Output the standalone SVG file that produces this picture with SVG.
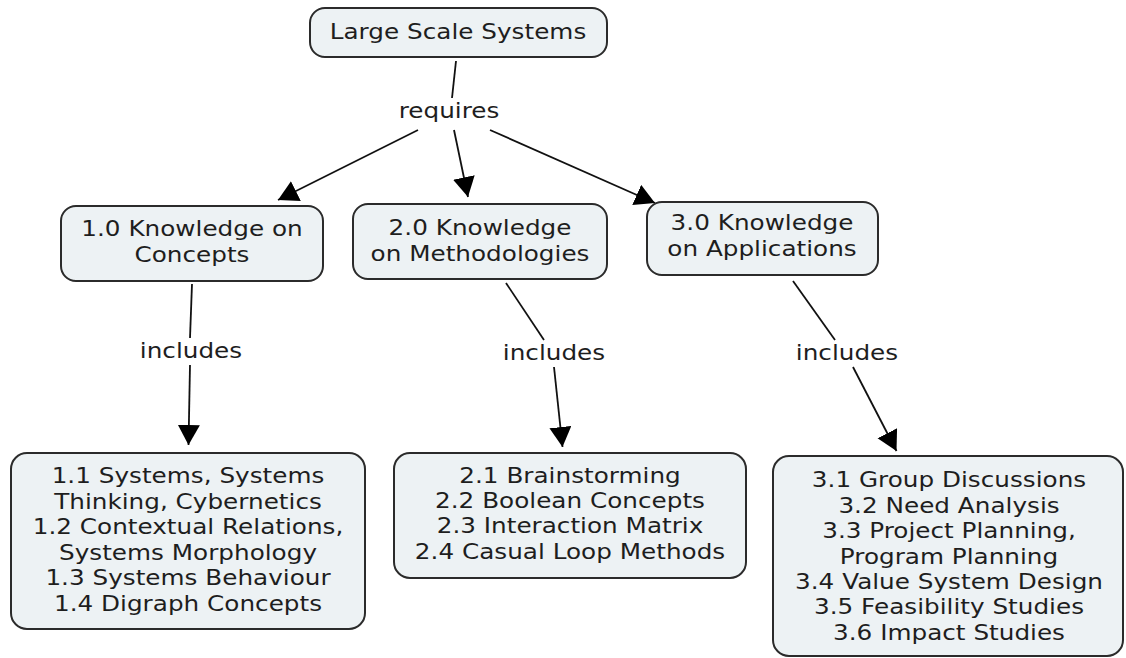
<svg xmlns="http://www.w3.org/2000/svg" width="1126" height="658" viewBox="0 0 1126 658">
<style>
.box{fill:#edf2f4;stroke:#2b2b2b;stroke-width:2}
text{font-family:"DejaVu Sans","Verdana",sans-serif;font-size:20.5px;fill:#1e1e1e;text-anchor:middle}
.edge{stroke:#111;stroke-width:1.8;fill:none}
</style>
<defs>
<marker id="ah" markerUnits="userSpaceOnUse" markerWidth="22" markerHeight="24" refX="20" refY="11" orient="auto">
<path d="M0,0 L20,11 L0,22 z" fill="#000"/>
</marker>
</defs>
<rect width="1126" height="658" fill="#fff"/>
<g id="connectors">
<line class="edge" x1="456" y1="61" x2="452" y2="98"/>
<text transform="translate(449,0) scale(1.205,1)" x="0" y="118">requires</text>
<line class="edge" x1="418" y1="130" x2="278" y2="200" marker-end="url(#ah)"/>
<line class="edge" x1="454" y1="130" x2="468" y2="197" marker-end="url(#ah)"/>
<line class="edge" x1="490" y1="130" x2="655" y2="203" marker-end="url(#ah)"/>
<line class="edge" x1="192" y1="284" x2="190" y2="338"/>
<text transform="translate(191,0) scale(1.205,1)" x="0" y="358">includes</text>
<line class="edge" x1="190" y1="365" x2="188.5" y2="445" marker-end="url(#ah)"/>
<line class="edge" x1="506" y1="283" x2="544" y2="340"/>
<text transform="translate(554,0) scale(1.205,1)" x="0" y="360">includes</text>
<line class="edge" x1="554" y1="367" x2="562.5" y2="447" marker-end="url(#ah)"/>
<line class="edge" x1="793" y1="281" x2="835" y2="340"/>
<text transform="translate(847,0) scale(1.205,1)" x="0" y="360">includes</text>
<line class="edge" x1="853" y1="367" x2="896.5" y2="451" marker-end="url(#ah)"/>
</g>
<g id="n-large">
<rect class="box" x="310" y="8" width="297" height="49" rx="15"/>
<text transform="translate(458,0) scale(1.205,1)" x="0" y="39">Large Scale Systems</text>
</g>
<g id="n-concepts">
<rect class="box" x="61" y="206" width="262" height="75" rx="15"/>
<text transform="translate(192,0) scale(1.205,1)" x="0" y="236"><tspan x="0">1.0 Knowledge on</tspan><tspan x="0" dy="26">Concepts</tspan></text>
</g>
<g id="n-methods">
<rect class="box" x="353" y="204" width="254" height="75" rx="15"/>
<text transform="translate(480,0) scale(1.205,1)" x="0" y="235"><tspan x="0">2.0 Knowledge</tspan><tspan x="0" dy="26.5">on Methodologies</tspan></text>
</g>
<g id="n-apps">
<rect class="box" x="647" y="202" width="231" height="73" rx="15"/>
<text transform="translate(762,0) scale(1.205,1)" x="0" y="230"><tspan x="0">3.0 Knowledge</tspan><tspan x="0" dy="26.5">on Applications</tspan></text>
</g>
<g id="n-concepts-list">
<rect class="box" x="11" y="453" width="354" height="176" rx="16"/>
<text transform="translate(188,0) scale(1.205,1)" x="0" y="483"><tspan x="0">1.1 Systems, Systems</tspan><tspan x="0" dy="25.6">Thinking, Cybernetics</tspan><tspan x="0" dy="25.6">1.2 Contextual Relations,</tspan><tspan x="0" dy="25.6">Systems Morphology</tspan><tspan x="0" dy="25.6">1.3 Systems Behaviour</tspan><tspan x="0" dy="25.6">1.4 Digraph Concepts</tspan></text>
</g>
<g id="n-methods-list">
<rect class="box" x="394" y="453" width="352" height="125" rx="16"/>
<text transform="translate(570,0) scale(1.205,1)" x="0" y="483"><tspan x="0">2.1 Brainstorming</tspan><tspan x="0" dy="25.2">2.2 Boolean Concepts</tspan><tspan x="0" dy="25.2">2.3 Interaction Matrix</tspan><tspan x="0" dy="25.2">2.4 Casual Loop Methods</tspan></text>
</g>
<g id="n-apps-list">
<rect class="box" x="773" y="456" width="350" height="200" rx="16"/>
<text transform="translate(949,0) scale(1.205,1)" x="0" y="487.5"><tspan x="0">3.1 Group Discussions</tspan><tspan x="0" dy="25.4">3.2 Need Analysis</tspan><tspan x="0" dy="25.4">3.3 Project Planning,</tspan><tspan x="0" dy="25.4">Program Planning</tspan><tspan x="0" dy="25.4">3.4 Value System Design</tspan><tspan x="0" dy="25.4">3.5 Feasibility Studies</tspan><tspan x="0" dy="25.4">3.6 Impact Studies</tspan></text>
</g>
</svg>
